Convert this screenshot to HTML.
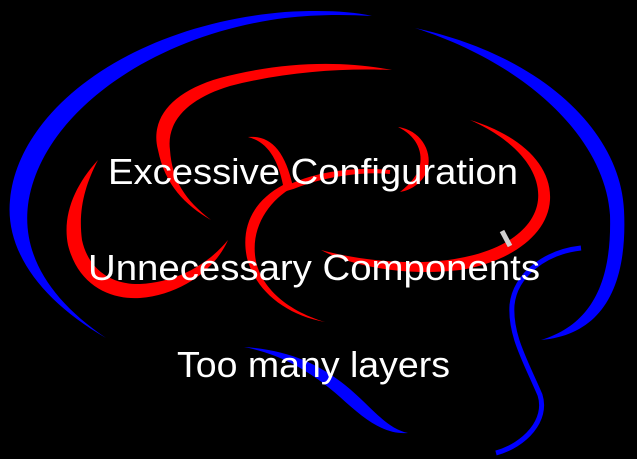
<!DOCTYPE html>
<html><head><style>
html,body{margin:0;padding:0;background:#000;width:637px;height:459px;overflow:hidden}
</style></head><body>
<svg width="637" height="459" viewBox="0 0 637 459" xmlns="http://www.w3.org/2000/svg">
<rect width="637" height="459" fill="#000"/>
<!-- blue big left/top arc -->
<path d="M106,338 C40,300 5,250 10,200 C18,110 130,25 285,12 C320,10 350,11 372,16 C340,14 310,15 285,18 C150,35 40,115 28,205 C22,255 50,300 106,338 Z" fill="#0000ff"/>
<!-- blue right arc -->
<path d="M415,28 C540,55 620,130 624,210 C628,290 600,335 541,340 C590,325 612,285 610,215 C605,140 530,65 415,28 Z" fill="#0000ff"/>
<!-- blue S -->
<path d="M581,248 C545,252 515,275 512,305 C510,335 525,360 540,395 C548,420 525,445 496,453" fill="none" stroke="#0000ff" stroke-width="5"/>
<!-- blue bottom -->
<path d="M244,347 C290,350 320,365 345,385 C370,405 385,428 408,433 C385,435 365,420 340,397 C315,375 285,355 244,347 Z" fill="#0000ff"/>
<!-- red top arc -->
<path d="M392,70 C340,60 280,62 220,78 C170,92 150,120 158,150 C165,185 185,205 211,220 C185,200 172,180 170,150 C166,120 190,98 230,86 C285,72 340,68 392,70 Z" fill="#ff0000"/>
<!-- red left C -->
<path d="M98,160 C75,185 62,215 68,245 C78,285 110,300 140,298 C180,295 215,270 228,240 C210,262 180,282 140,284 C110,285 88,268 82,240 C78,210 85,185 98,160 Z" fill="#ff0000"/>
<!-- red middle S into lower -->
<path d="M248,137 C270,135 285,150 293,187 C270,200 252,225 255,255 C258,285 285,310 325,322 C285,315 255,290 247,258 C240,225 255,200 283,185 C278,160 268,142 248,137 Z" fill="#ff0000"/>
<!-- red inner loop arc -->
<path d="M283,190 C310,175 350,168 390,172 C370,170 330,172 293,187 Z" fill="#ff0000" stroke="#ff0000" stroke-width="4"/>
<!-- red right big loop -->
<path d="M470,120 C520,135 552,165 550,200 C548,235 510,262 460,270 C410,276 355,268 321,250 C365,262 420,266 460,258 C505,250 535,228 538,200 C541,170 515,140 470,120 Z" fill="#ff0000"/>
<!-- red small arc -->
<path d="M398,127 C420,130 432,150 428,168 C424,182 412,190 400,192 C410,184 418,175 420,165 C423,150 415,135 398,127 Z" fill="#ff0000"/>
<!-- gray tick -->
<line x1="502" y1="231" x2="510" y2="246" stroke="#d0d0d0" stroke-width="5"/>
<g fill="#fff" font-family="Liberation Sans, sans-serif" font-size="36">
<text x="108" y="184" textLength="410" lengthAdjust="spacingAndGlyphs">Excessive Configuration</text>
<text x="88" y="280" textLength="452" lengthAdjust="spacingAndGlyphs">Unnecessary Components</text>
<text x="177" y="377" textLength="273" lengthAdjust="spacingAndGlyphs">Too many layers</text>
</g>
</svg>
</body></html>
